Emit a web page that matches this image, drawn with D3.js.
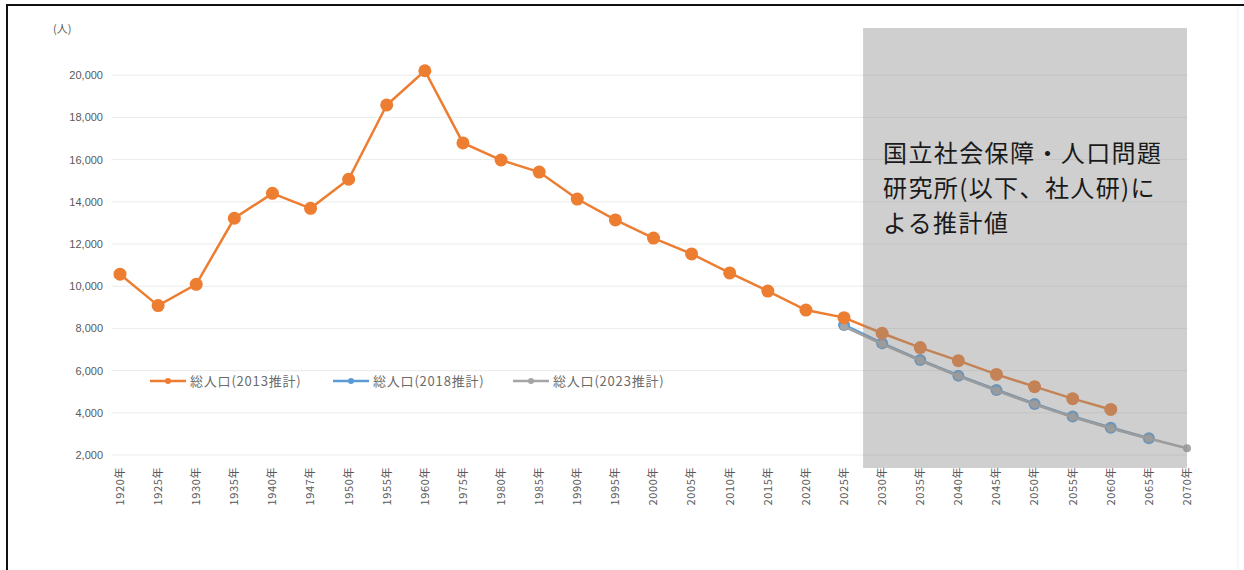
<!DOCTYPE html>
<html>
<head>
<meta charset="utf-8">
<script src="https://cdn.jsdelivr.net/npm/d3@7"></script>
<style>
  html, body { margin: 0; padding: 0; background: #fff; }
  svg { display: block; font-family: "Noto Sans CJK JP", "Noto Sans", sans-serif; }
</style>
</head>
<body>
<svg width="1244" height="570"></svg>
<script>
// years on the category axis (1947 and the 1960 -> 1975 jump are in the source)
const years = ['1920','1925','1930','1935','1940','1947','1950','1955','1960','1975','1980','1985','1990','1995','2000','2005','2010','2015','2020','2025','2030','2035','2040','2045','2050','2055','2060','2065','2070']

// 総人口 (2013推計) : 1920 - 2060
const pop2013 = [10570, 9080, 10090, 13220, 14400, 13690, 15070, 18590, 20210, 16790, 15980, 15410, 14130, 13140, 12280, 11530, 10630, 9770, 8870, 8510, 7770, 7090, 6470, 5820, 5240, 4670, 4160]
const years2013 = years.slice(0, 27)

// 総人口 (2018推計) : 2025 - 2065
const pop2018 = [8160, 7290, 6500, 5760, 5080, 4420, 3820, 3290, 2790]
const years2018 = years.slice(19, 28)

// 総人口 (2023推計) : 2025 - 2070
const pop2023 = [8080, 7260, 6480, 5740, 5060, 4400, 3800, 3270, 2780, 2320]
const years2023 = years.slice(19, 29)

const yTicks = [2000, 4000, 6000, 8000, 10000, 12000, 14000, 16000, 18000, 20000]
const seriesNames = ['総人口(2013推計)', '総人口(2018推計)', '総人口(2023推計)']
const note = ['国立社会保障・人口問題', '研究所(以下、社人研)に', 'よる推計値']

const svg = d3.select('svg')
const textGray = '#595959'

// frame of the original slide
svg.append('line').attr('x1', 6).attr('x2', 1244).attr('y1', 5).attr('y2', 5)
  .attr('stroke', '#111').attr('stroke-width', 2)
svg.append('line').attr('x1', 7).attr('x2', 7).attr('y1', 4).attr('y2', 570)
  .attr('stroke', '#111').attr('stroke-width', 2)
svg.append('line').attr('x1', 1238).attr('x2', 1238).attr('y1', 6).attr('y2', 570)
  .attr('stroke', '#f0f0f0').attr('stroke-width', 1)

const x = d3.scalePoint().domain(years).range([120, 1187])
const y = d3.scaleLinear().domain([2000, 22000]).range([455, 33])

// gridlines
svg.append('g')
  .selectAll('line')
  .data(yTicks)
  .join('line')
    .attr('x1', 112)
    .attr('x2', 1187)
    .attr('y1', d => y(d))
    .attr('y2', d => y(d))
    .attr('stroke', '#ebebeb')
    .attr('stroke-width', 1)

// y axis labels
svg.append('g')
  .attr('transform', 'translate(103,0)')
  .call(d3.axisLeft(y).tickValues(yTicks).tickSize(0).tickPadding(0).tickFormat(d3.format(',')))
  .call(g => g.select('.domain').remove())
  .call(g => g.selectAll('text')
    .attr('fill', textGray)
    .attr('font-size', 11)
    .attr('font-family', '"Liberation Sans", Arial, sans-serif'))

svg.append('text')
  .attr('x', 53).attr('y', 33)
  .attr('font-size', 11)
  .attr('fill', textGray)
  .text('(人)')

// x axis labels, rotated
svg.append('g')
  .selectAll('text')
  .data(years)
  .join('text')
    .attr('transform', d => `translate(${x(d)},467) rotate(-90)`)
    .attr('text-anchor', 'end')
    .attr('dy', '0.35em')
    .attr('font-size', 11)
    .attr('letter-spacing', 0.6)
    .attr('fill', textGray)
    .text(d => d + '年')

const line = d3.line().x(d => x(d[0])).y(d => y(d[1]))

function drawSeries(yrs, vals, color, r, width) {
  const pts = yrs.map((yr, i) => [yr, vals[i]])
  const g = svg.append('g')
  g.append('path')
    .datum(pts)
    .attr('d', line)
    .attr('fill', 'none')
    .attr('stroke', color)
    .attr('stroke-width', width)
  g.selectAll('circle')
    .data(pts)
    .join('circle')
      .attr('cx', d => x(d[0]))
      .attr('cy', d => y(d[1]))
      .attr('r', r)
      .attr('fill', color)
}

drawSeries(years2018, pop2018, '#5b9bd5', 6, 3)
drawSeries(years2023, pop2023, '#a5a5a5', 4, 2.5)
drawSeries(years2013, pop2013, '#ed7d31', 6.5, 2.5)

// shaded projection block, laid over the lines
const step = x.step()
svg.append('rect')
  .attr('x', x('2025') + step / 2)
  .attr('y', y(22000) - 5)
  .attr('width', x('2070') - x('2025') - step / 2)
  .attr('height', y(2000) - y(22000) + 18)
  .attr('fill', '#8c8c8c')
  .attr('fill-opacity', 0.42)

svg.append('g')
  .selectAll('text')
  .data(note)
  .join('text')
    .attr('x', 883)
    .attr('y', (d, i) => 162 + i * 35)
    .attr('font-size', 24)
    .attr('letter-spacing', 1.4)
    .attr('fill', '#1a1a1a')
    .text(d => d)

// legend
const legendX = [150, 333, 513]
const legendColors = ['#ed7d31', '#5b9bd5', '#a5a5a5']
const legend = svg.append('g')
  .selectAll('g')
  .data(seriesNames)
  .join('g')
    .attr('transform', (d, i) => `translate(${legendX[i]},381)`)
legend.append('line')
  .attr('x1', 0).attr('x2', 36)
  .attr('stroke', (d, i) => legendColors[i])
  .attr('stroke-width', 2.5)
legend.append('circle')
  .attr('cx', 18).attr('r', 3)
  .attr('fill', (d, i) => legendColors[i])
legend.append('text')
  .attr('x', 40)
  .attr('dy', '0.35em')
  .attr('font-size', 13)
  .attr('letter-spacing', 0.8)
  .attr('fill', '#6b6b6b')
  .text(d => d)
</script>
</body>
</html>
